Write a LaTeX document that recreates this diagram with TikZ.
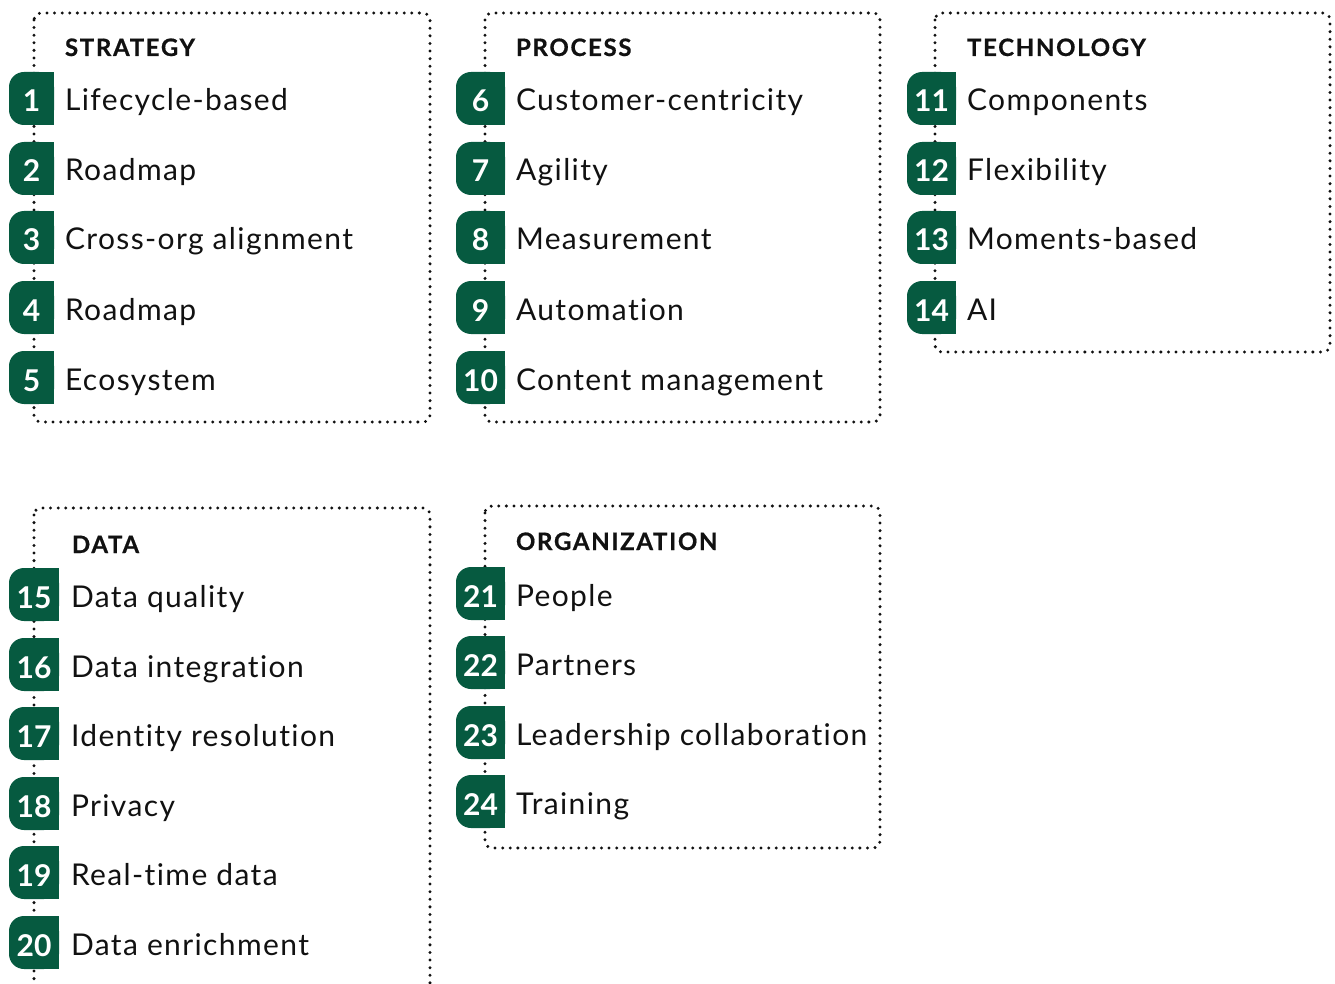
\documentclass[tikz,border=0pt]{standalone}
\usepackage{fontspec}
\setmainfont{Lato}[Ligatures=NoCommon, LetterSpace=4.6]
\newfontfamily\headfont{Lato}[Ligatures=NoCommon, LetterSpace=7, FakeBold=0.6]
\newfontfamily\numfont{Lato}[Ligatures=NoCommon]
\definecolor{leaf}{RGB}{6,90,64}
\definecolor{ink}{RGB}{17,17,17}

% green tab with rounded left corners and a square right edge, plus its number
\newcommand\tab[5]{% name, left x, right x, baseline y, label
  \fill[leaf, rounded corners=15pt] (#2,#4-39) rectangle (#3,#4+14);
  \fill[leaf] ({#2+20},#4-39) rectangle (#3,#4+14);
  \node[num] (#1) at ({(#2+#3)/2},#4+1) {#5};
}

\begin{document}
\begin{tikzpicture}[x=1pt,y=-1pt,
  every node/.style={inner sep=0pt, outer sep=0pt},
  item/.style={anchor=base west, font=\fontsize{30}{36}\selectfont, text=ink},
  head/.style={anchor=base west, font=\headfont\bfseries\fontsize{24}{28}\selectfont, text=ink},
  num/.style={anchor=base, font=\numfont\bfseries\fontsize{30}{36}\selectfont, text=white},
  dotbox/.style={draw=ink, line width=3.3pt, line cap=round,
                 dash pattern=on 0pt off 7.6pt, rounded corners=7pt}]
\useasboundingbox (0,0) rectangle (1335,984);
\clip (0,0) rectangle (1335,984);

% dotted group frames
\draw[dotbox] (34,13) rectangle (430,422);
\draw[dotbox] (485,13) rectangle (880,422);
\draw[dotbox] (935,13) rectangle (1330,352);
\draw[dotbox] (34,508) rectangle (430,1010);
\draw[dotbox] (485,506) rectangle (880,848);

% headings
\node[head] (h1) at (65,56) {STRATEGY};
\node[head] (h2) at (516,56) {PROCESS};
\node[head] (h3) at (967,56) {TECHNOLOGY};
\node[head] (h4) at (72,553) {DATA};
\node[head] (h5) at (516,550) {ORGANIZATION};

% strategy
\foreach \n/\y/\t in {1/111/Lifecycle-based, 2/181/Roadmap, 3/250/Cross-org alignment,
                      4/320/Roadmap, 5/390/Ecosystem}{
  \tab{b\n}{9}{54}{\y}{\n}
  \node[item] (t\n) at (65,\y) {\t};
}
% process
\foreach \n/\y/\t in {6/111/Customer-centricity, 7/181/Agility, 8/250/Measurement,
                      9/320/Automation, 10/390/Content management}{
  \tab{b\n}{456}{505}{\y}{\n}
  \node[item] (t\n) at (516,\y) {\t};
}
% technology
\foreach \n/\y/\t in {11/111/Components, 12/181/Flexibility, 13/250/Moments-based, 14/320/AI}{
  \tab{b\n}{907}{956}{\y}{\n}
  \node[item] (t\n) at (967,\y) {\t};
}
% data
\foreach \n/\y/\t in {15/607/Data quality, 16/677/Data integration, 17/746/Identity resolution,
                      18/816/Privacy, 19/885/Real-time data, 20/955/Data enrichment}{
  \tab{b\n}{9}{59}{\y}{\n}
  \node[item] (t\n) at (71,\y) {\t};
}
% organization
\foreach \n/\y/\t in {21/606/People, 22/675/Partners, 23/745/Leadership collaboration,
                      24/814/Training}{
  \tab{b\n}{456}{505}{\y}{\n}
  \node[item] (t\n) at (516,\y) {\t};
}
\end{tikzpicture}
\end{document}
